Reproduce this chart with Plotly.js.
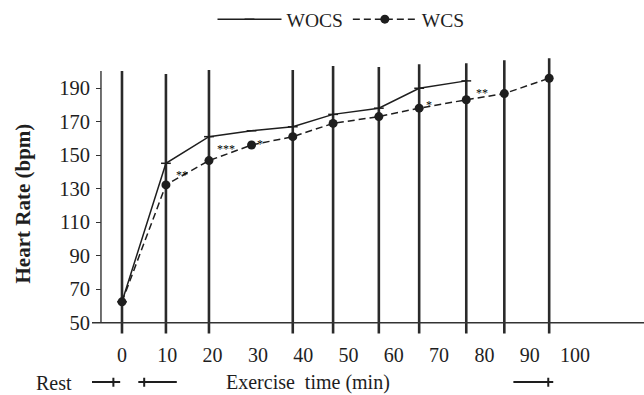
<!DOCTYPE html>
<html><head><meta charset="utf-8">
<script src="https://cdn.plot.ly/plotly-3.0.1.min.js"></script>
<style>html,body{margin:0;padding:0;background:#fff}</style>
</head><body><div id="chart" style="width:644px;height:395px"></div>
<script>
// ---- data ----
const timeMin = [0, 9.7, 19.2, 28.6, 37.7, 46.6, 56.7, 65.6, 76.0, 84.4, 94.3];
const wocsTime = [0, 9.7, 19.2, 28.6, 37.7, 46.6, 56.7, 65.6, 76.0];
const wocsHR = [62.5, 145.2, 161.1, 164.6, 167.0, 174.4, 178.1, 190.0, 194.4];
const wcsTime = [0, 9.7, 19.2, 28.6, 37.7, 46.6, 56.7, 65.6, 76.0, 84.4, 94.3];
const wcsHR = [62.5, 132.3, 146.8, 156.1, 161.1, 169.0, 173.1, 178.1, 183.1, 186.8, 196.0];
const xTickVals = [0, 10, 20, 30, 40, 50, 60, 70, 80, 90, 100];
const yTickVals = [50, 70, 90, 110, 130, 150, 170, 190];
const markerLineTime = [0, 9.7, 19.2, 37.7, 46.6, 56.7, 65.6, 76.0, 84.4, 94.3];
const markerLineTop = [200.3, 198.5, 200.9, 200.9, 203.3, 202.7, 204.3, 204.9, 206.7, 207.9];
const sigLabels = ['**', '***', '*', '*', '**'];
const sigTime = [13.2, 23.0, 30.5, 67.8, 79.5];
const sigHR = [140.2, 155.7, 158.7, 181.6, 188.8];
// bracket markers under the axis: [start, end, crossbar]
const phaseBars = [[-8.2, -0.4, -1.9], [3.6, 12.1, 4.9], [86.4, 95.2, 94.1]];

const SERIF = '"Liberation Serif", "Times New Roman", serif';
const INK = '#1e1e1e';

const traces = [
  {x: wocsTime, y: wocsHR, name: 'WOCS', type: 'scatter', mode: 'lines+markers',
   line: {color: INK, width: 1.5},
   marker: {symbol: 'line-ew', size: 7, color: INK, line: {color: INK, width: 1.5}}},
  {x: wcsTime, y: wcsHR, name: 'WCS', type: 'scatter', mode: 'lines+markers',
   line: {color: INK, width: 1.5, dash: '7px,4px'},
   marker: {symbol: 'circle', size: 9, color: INK}}
];

const shapes = [];
markerLineTime.forEach((t, i) => {
  shapes.push({type: 'line', xref: 'x', yref: 'y', x0: t, x1: t, y0: 43.6, y1: markerLineTop[i],
    line: {color: '#2a2a2a', width: 2.6}, layer: 'below'});
});
// axes lines
shapes.push({type: 'line', xref: 'paper', yref: 'y', x0: 0, x1: 1, y0: 50, y1: 50,
  line: {color: '#333', width: 1.4}});
shapes.push({type: 'line', xref: 'x', yref: 'y', x0: -4.64, x1: -4.64, y0: 50, y1: 200.3,
  line: {color: '#333', width: 1.4}});
phaseBars.forEach(b => {
  shapes.push({type: 'line', xref: 'x', yref: 'paper', x0: b[0], x1: b[1], y0: -0.16, y1: -0.16,
    line: {color: INK, width: 2}});
  shapes.push({type: 'line', xref: 'x', yref: 'paper', x0: b[2], x1: b[2], y0: -0.145, y1: -0.177,
    line: {color: INK, width: 2}});
});

const annotations = sigLabels.map((s, i) => ({
  x: sigTime[i], y: sigHR[i], xref: 'x', yref: 'y', text: s, showarrow: false,
  xanchor: 'center', yanchor: 'middle',
  yshift: -3, font: {family: SERIF, size: 12, color: '#000'}
}));
annotations.push({xref: 'paper', yref: 'paper', x: (23 - 92) / 552, y: (337 - 203) / 282,
  xanchor: 'center', yanchor: 'middle',
  text: '<b>Heart Rate (bpm)</b>', textangle: -90, showarrow: false,
  font: {family: SERIF, size: 21, color: INK}});
annotations.push({xref: 'paper', yref: 'paper', x: (308 - 92) / 552, y: (337 - 383) / 282,
  xanchor: 'center', yanchor: 'middle',
  text: 'Exercise\u00a0 time (min)', showarrow: false,
  font: {family: SERIF, size: 20, color: INK}});
annotations.push({xref: 'paper', yref: 'paper', x: (54 - 92) / 552, y: (337 - 383) / 282,
  xanchor: 'center', yanchor: 'middle',
  text: 'Rest', showarrow: false,
  font: {family: SERIF, size: 20, color: INK}});

const layout = {
  width: 644, height: 395,
  margin: {l: 92, r: 0, t: 55, b: 58},
  paper_bgcolor: '#fff', plot_bgcolor: '#fff',
  font: {family: SERIF, size: 19, color: INK},
  showlegend: true,
  legend: {orientation: 'h', x: (341 - 92) / 552, xanchor: 'center', y: (337 - 18) / 282, yanchor: 'middle',
    itemwidth: 64, font: {family: SERIF, size: 19.5, color: INK}, bgcolor: 'rgba(0,0,0,0)'},
  xaxis: {range: [-6.62, -6.62 + 552 / 4.53], tickmode: 'array', tickvals: xTickVals,
    ticktext: xTickVals.map(String), ticks: '', showgrid: false, zeroline: false, showline: false,
    ticklabelstandoff: 4, tickfont: {family: SERIF, size: 20, color: INK}, fixedrange: true},
  yaxis: {range: [41.5, 209.25], tickmode: 'array', tickvals: yTickVals, ticktext: yTickVals.map(String),
    anchor: 'free', position: 9 / 552, ticks: 'outside', ticklen: 5, tickwidth: 1.4, tickcolor: '#333',
    showgrid: false, zeroline: false, showline: false, ticklabelstandoff: 2,
    tickfont: {family: SERIF, size: 20.5, color: INK}, fixedrange: true},
  shapes: shapes,
  annotations: annotations
};

Plotly.newPlot('chart', traces, layout, {displayModeBar: false, staticPlot: true});
</script>
</body></html>
